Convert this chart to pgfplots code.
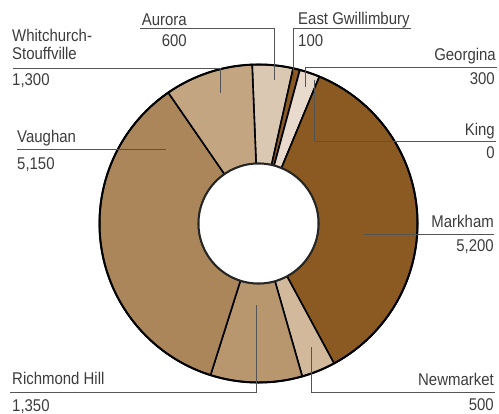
\documentclass[border=0pt]{standalone}
\usepackage{fontspec}
\setmainfont{Liberation Sans}[FakeStretch=0.88]
\usepackage{pgfplots}
\usepackage{pgfplotstable}
\pgfplotsset{compat=1.18}

\definecolor{c0}{HTML}{DBC8B2} % Aurora
\definecolor{c1}{HTML}{8B5A22} % East Gwillimbury
\definecolor{c2}{HTML}{E8DACC} % Georgina
\definecolor{c3}{HTML}{E8DACC} % King
\definecolor{c4}{HTML}{8B5A22} % Markham
\definecolor{c5}{HTML}{D2B99B} % Newmarket
\definecolor{c6}{HTML}{B8976E} % Richmond Hill
\definecolor{c7}{HTML}{AA865A} % Vaughan
\definecolor{c8}{HTML}{C4A582} % Whitchurch-Stouffville
\definecolor{txt}{HTML}{3C3C3C}
\definecolor{lead}{HTML}{555555}

\pgfplotstableread[col sep=comma]{
label,value
Aurora,600
East Gwillimbury,100
Georgina,300
King,0
Markham,5200
Newmarket,500
Richmond Hill,1350
Vaughan,5150
Whitchurch-Stouffville,1300
}\datatable

\newcommand\lbl{\fontsize{17bp}{20bp}\selectfont}

\xdef\total{0}
\foreach \i in {0,...,8}{%
  \pgfplotstablegetelem{\i}{value}\of\datatable
  \pgfmathsetmacro\t{\total+\pgfplotsretval}%
  \xdef\total{\t}%
}
\def\startang{92.3}
\xdef\cum{0}
\foreach \i in {0,...,8}{%
  \pgfplotstablegetelem{\i}{value}\of\datatable
  \pgfmathsetmacro\s{\startang-360*(\cum/\total)}%
  \pgfmathsetmacro\c{\cum+\pgfplotsretval}%
  \pgfmathsetmacro\e{\startang-360*(\c/\total)}%
  \expandafter\xdef\csname sA\i\endcsname{\s}%
  \expandafter\xdef\csname eA\i\endcsname{\e}%
  \xdef\cum{\c}%
}

\begin{document}
\begin{tikzpicture}
\begin{axis}[scale only axis, width=499bp, height=413bp,
  xmin=0, xmax=499, ymin=0, ymax=413, hide axis, clip=false]
\path (axis cs:0,0) rectangle (axis cs:499,413);
\begin{scope}[shift={(axis cs:258.5,189.5)}]
\pgfplotsinvokeforeach{0,...,8}{
  \filldraw[fill=c#1, draw=black, line width=1.6bp, line join=round]
    (\csname sA#1\endcsname:159bp)
    arc[start angle=\csname sA#1\endcsname, end angle=\csname eA#1\endcsname, radius=159bp]
    -- (\csname eA#1\endcsname:60bp)
    arc[start angle=\csname eA#1\endcsname, end angle=\csname sA#1\endcsname, radius=60bp]
    -- cycle;
}
\draw[black, line width=2bp] (0,0) circle[radius=159bp];
\filldraw[fill=white, draw=black!85, line width=2bp] (0,0) circle[radius=60bp];
\end{scope}
% leader lines
\begin{scope}[draw=lead, line width=1bp]
\draw (axis cs:140,384) -- (axis cs:274,384) -- (axis cs:274,333);
\draw (axis cs:13,345) -- (axis cs:220,345) -- (axis cs:220,320);
\draw (axis cs:411,384) -- (axis cs:293,384) -- (axis cs:293,332);
\draw (axis cs:497,346) -- (axis cs:305,346) -- (axis cs:305,326);
\draw (axis cs:496,272) -- (axis cs:314,272) -- (axis cs:314,333);
\draw (axis cs:363,179) -- (axis cs:494,179);
\draw (axis cs:495,21) -- (axis cs:311,21) -- (axis cs:311,66);
\draw (axis cs:10,21) -- (axis cs:256,21) -- (axis cs:256,108);
\draw (axis cs:17,264) -- (axis cs:166,264);
\end{scope}
% labels
\begin{scope}[every node/.style={inner sep=0pt, text=txt, font=\lbl}]
\node[anchor=base east] at (axis cs:187,388) {Aurora};
\node[anchor=base east] at (axis cs:187,366.3) {600};
\node[anchor=base west] at (axis cs:12,371.3) {Whitchurch-};
\node[anchor=base west] at (axis cs:12,353.7) {Stouffville};
\node[anchor=base west] at (axis cs:12,327.3) {1,300};
\node[anchor=base west] at (axis cs:298,389) {East Gwillimbury};
\node[anchor=base west] at (axis cs:298,367) {100};
\node[anchor=base east] at (axis cs:496,352.3) {Georgina};
\node[anchor=base east] at (axis cs:495,329) {300};
\node[anchor=base east] at (axis cs:495,278) {King};
\node[anchor=base east] at (axis cs:495,255) {0};
\node[anchor=base east] at (axis cs:494,185.7) {Markham};
\node[anchor=base east] at (axis cs:494,161.3) {5,200};
\node[anchor=base east] at (axis cs:494,28) {Newmarket};
\node[anchor=base east] at (axis cs:494,3) {500};
\node[anchor=base west] at (axis cs:12,29) {Richmond Hill};
\node[anchor=base west] at (axis cs:12,1.3) {1,350};
\node[anchor=base west] at (axis cs:17,270.5) {Vaughan};
\node[anchor=base west] at (axis cs:17,244) {5,150};
\end{scope}
\end{axis}
\end{tikzpicture}
\end{document}
